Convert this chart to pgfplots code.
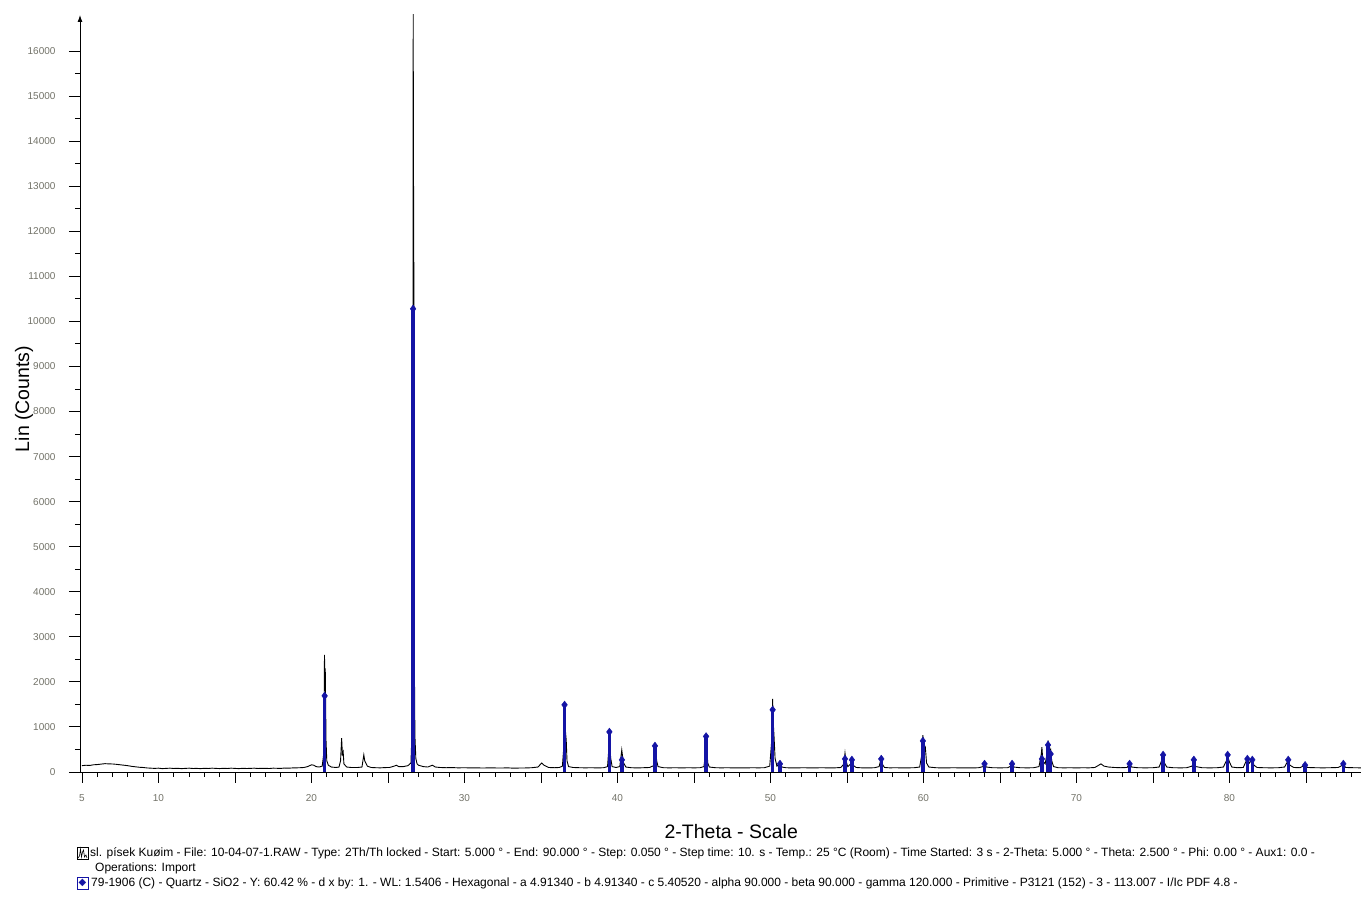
\documentclass[border=0pt]{standalone}
\usepackage{pgfplots}
\pgfplotsset{compat=1.18}
\usepackage{fontspec}
\setmainfont{Liberation Sans}
\newfontfamily\djv{DejaVu Sans}
\usetikzlibrary{arrows.meta}
\definecolor{stickblue}{RGB}{20,20,165}
\definecolor{tickgray}{RGB}{115,115,105}

\pgfplotstableread{
x y
5.00 140
5.25 150
5.50 145
5.75 160
6.00 165
6.25 175
6.50 185
6.75 180
7.00 178
7.25 170
7.50 160
7.75 150
8.00 140
8.25 125
8.50 115
8.75 105
9.00 100
9.25 90
9.50 85
9.75 80
10.00 85
10.25 75
10.50 80
10.75 85
11.00 78
11.25 82
11.50 75
11.75 80
12.00 85
12.25 78
12.50 80
12.75 75
13.00 82
13.25 78
13.50 85
13.75 80
14.00 76
14.25 82
14.50 78
14.75 85
15.00 80
15.25 75
15.50 82
15.75 78
16.00 80
16.25 85
16.50 78
16.75 82
17.00 80
17.25 78
17.50 85
17.75 82
18.00 80
18.25 88
18.50 85
18.75 90
19.00 92
19.25 95
19.50 100
19.75 120
20.00 160
20.15 150
20.30 120
20.50 110
20.70 130
20.80 400
20.85 2600
20.88 1800
20.90 2300
20.95 700
21.00 250
21.10 150
21.30 110
21.60 100
21.80 110
21.90 250
21.97 750
22.02 400
22.07 450
22.12 180
22.30 110
22.60 100
23.00 100
23.30 110
23.42 380
23.48 250
23.55 200
23.65 130
23.90 100
24.20 95
24.50 92
24.80 98
25.10 100
25.40 130
25.55 150
25.70 120
26.00 120
26.30 140
26.50 200
26.58 1000
26.62 2000
26.65 17500
26.66 12800
26.675 13000
26.685 11500
26.69 11000
26.72 2600
26.76 800
26.82 300
26.90 180
27.00 150
27.30 120
27.60 110
27.90 150
28.10 110
28.40 100
28.80 95
29.20 98
29.60 92
30.00 95
30.40 90
30.80 92
31.20 88
31.60 92
32.00 90
32.40 88
32.80 92
33.20 85
33.60 88
34.00 90
34.40 95
34.80 110
35.05 200
35.20 150
35.50 100
35.90 95
36.20 100
36.40 130
36.50 600
36.55 1500
36.60 900
36.65 700
36.70 250
36.80 120
37.10 100
37.50 95
37.90 92
38.30 95
38.70 90
39.10 95
39.35 120
39.43 500
39.47 880
39.52 450
39.56 300
39.65 120
39.90 100
40.15 120
40.28 490
40.33 350
40.40 200
40.55 110
40.90 95
41.30 90
41.70 95
42.10 100
42.35 140
42.42 350
42.47 520
42.52 400
42.56 250
42.65 120
43.00 95
43.40 92
43.80 95
44.20 90
44.60 95
45.00 92
45.40 95
45.65 120
45.75 400
45.80 720
45.86 400
45.90 200
46.00 110
46.40 95
46.80 92
47.20 95
47.60 90
48.00 92
48.40 90
48.80 95
49.20 92
49.60 95
49.95 130
50.08 700
50.14 1620
50.18 1100
50.23 800
50.30 300
50.42 130
50.60 170
50.75 110
51.00 95
51.40 90
51.80 92
52.20 95
52.60 90
53.00 92
53.40 95
53.80 90
54.20 92
54.60 100
54.80 180
54.87 420
54.93 250
55.05 120
55.25 180
55.32 280
55.40 150
55.60 100
56.00 92
56.40 90
56.80 95
57.10 120
57.22 290
57.30 180
57.45 100
57.80 92
58.20 95
58.60 90
59.00 92
59.40 95
59.75 110
59.90 400
59.96 820
60.05 500
60.12 550
60.20 200
60.35 110
60.80 95
61.20 90
61.60 92
62.00 95
62.40 90
62.80 92
63.20 90
63.60 95
63.90 120
64.00 170
64.10 110
64.50 95
65.00 92
65.50 95
65.70 130
65.80 180
65.90 110
66.30 95
66.80 92
67.20 95
67.55 120
67.70 400
67.74 550
67.80 250
67.95 180
68.10 450
68.14 700
68.20 400
68.31 500
68.38 250
68.50 120
68.80 95
69.20 92
69.60 95
70.00 90
70.40 95
70.80 92
71.20 100
71.45 150
71.60 180
71.80 130
72.10 110
72.50 100
72.90 95
73.30 100
73.47 170
73.60 110
74.00 95
74.50 92
75.00 95
75.40 110
75.60 280
75.66 330
75.75 200
75.90 110
76.30 95
76.80 92
77.20 95
77.55 130
77.67 220
77.80 120
78.20 95
78.70 92
79.20 95
79.60 110
79.80 250
79.88 350
80.00 220
80.15 110
80.50 95
80.90 100
81.10 250
81.17 300
81.30 200
81.49 280
81.60 150
81.80 100
82.20 95
82.70 92
83.20 95
83.60 110
83.84 260
83.95 150
84.20 100
84.60 95
84.94 150
85.10 100
85.60 95
86.10 92
86.60 95
87.10 100
87.44 160
87.60 100
88.10 95
88.60 92
89.00 95
89.50 92
90.00 95
}\scan

\pgfplotstableread{
x y
20.86 1690
26.64 10280
36.54 1490
39.47 890
40.29 270
42.45 580
45.79 790
50.14 1380
50.62 180
54.87 290
55.32 270
57.24 290
59.96 690
63.99 180
65.79 180
67.74 290
68.14 600
68.31 400
73.47 180
75.66 380
77.67 270
79.88 380
81.17 290
81.49 270
83.84 270
84.94 150
87.44 180
}\quartz

\begin{document}
\begin{tikzpicture}[x=1pt,y=1pt]
\useasboundingbox (0,0) rectangle (1361,902);
\clip (0,0) rectangle (1361,902);
\fill[white] (0,0) rectangle (1361,902);
\begin{axis}[
  at={(80pt,130pt)}, anchor=south west,
  scale only axis,
  width=1302.5pt, height=757pt,
  xmin=4.87, xmax=90, ymin=0, ymax=16800,
  axis lines=left,
  x axis line style={-},
  y axis line style={-{Latex[length=7pt,width=5pt]}},
  axis line style={black, line width=0.9pt},
  tick align=outside,
  major tick length=11pt, minor tick length=5pt,
  tick style={black, line width=0.9pt},
  xtick={5,10,...,90},
  xticklabels={5,10,,20,,30,,40,,50,,60,,70,,80,,},
  minor x tick num=4,
  ytick={0,1000,...,16000},
  minor y tick num=1,
  scaled y ticks=false,
  /pgf/number format/assume math mode=true,
  yticklabel={\pgfmathprintnumber[fixed,precision=0,1000 sep={}]{\tick}},
  ticklabel style={font=\fontsize{10}{12}\selectfont, text=tickgray},
  yticklabel style={xshift=-10pt},
  xticklabel style={yshift=-8pt},
  xlabel={2-Theta - Scale},
  ylabel={Lin (Counts)},
  label style={font=\fontsize{19.5}{22}\selectfont},
  xlabel style={at={(axis description cs:0.5,-0.0793)}, anchor=center},
  ylabel style={at={(axis description cs:-0.043,0.4927)}, anchor=center},
  clip=true,
]
\addplot[black, line width=0.9pt, sharp plot, mark=none] table[x=x,y=y] {\scan};
\addplot[stickblue, ycomb, line width=3.4pt, mark=diamond*, mark size=3.8pt,
  mark options={stickblue, line width=0.4pt}] table[x=x,y=y] {\quartz};
\end{axis}
% legend lines below the chart
\draw[black, line width=0.7pt] (77,43) rectangle (88,55);
\draw[black, line width=0.6pt] (78,44) -- (79.5,46) -- (80.5,53) -- (81.5,45) -- (82.5,50) -- (83.5,52) -- (84.5,45) -- (86,47) -- (87,44);
\node[anchor=west, inner sep=0pt, font=\fontsize{12}{14}\selectfont] at (90,49)
  {sl. písek Kuøim - File: 10-04-07-1.RAW - Type: 2Th/Th locked - Start: 5.000 ° - End: 90.000 ° - Step: 0.050 ° - Step time: 10. s - Temp.: 25 °C (Room) - Time Started: 3 s - 2-Theta: 5.000 ° - Theta: 2.500 ° - Phi: 0.00 ° - Aux1: 0.0 -};
\node[anchor=west, inner sep=0pt, font=\fontsize{12}{14}\selectfont] at (95,34) {Operations: Import};
\draw[stickblue, line width=0.8pt] (77,13) rectangle (88,25);
\node[inner sep=0pt, text=stickblue, font=\djv\fontsize{10}{11}\selectfont] at (82.5,19) {◆};
\node[anchor=west, inner sep=0pt, font=\fontsize{12}{14}\selectfont] at (91,19)
  {79-1906 (C) - Quartz - SiO2 - Y: 60.42 \% - d x by: 1. - WL: 1.5406 - Hexagonal - a 4.91340 - b 4.91340 - c 5.40520 - alpha 90.000 - beta 90.000 - gamma 120.000 - Primitive - P3121 (152) - 3 - 113.007 - I/Ic PDF 4.8 -};
\end{tikzpicture}
\end{document}
